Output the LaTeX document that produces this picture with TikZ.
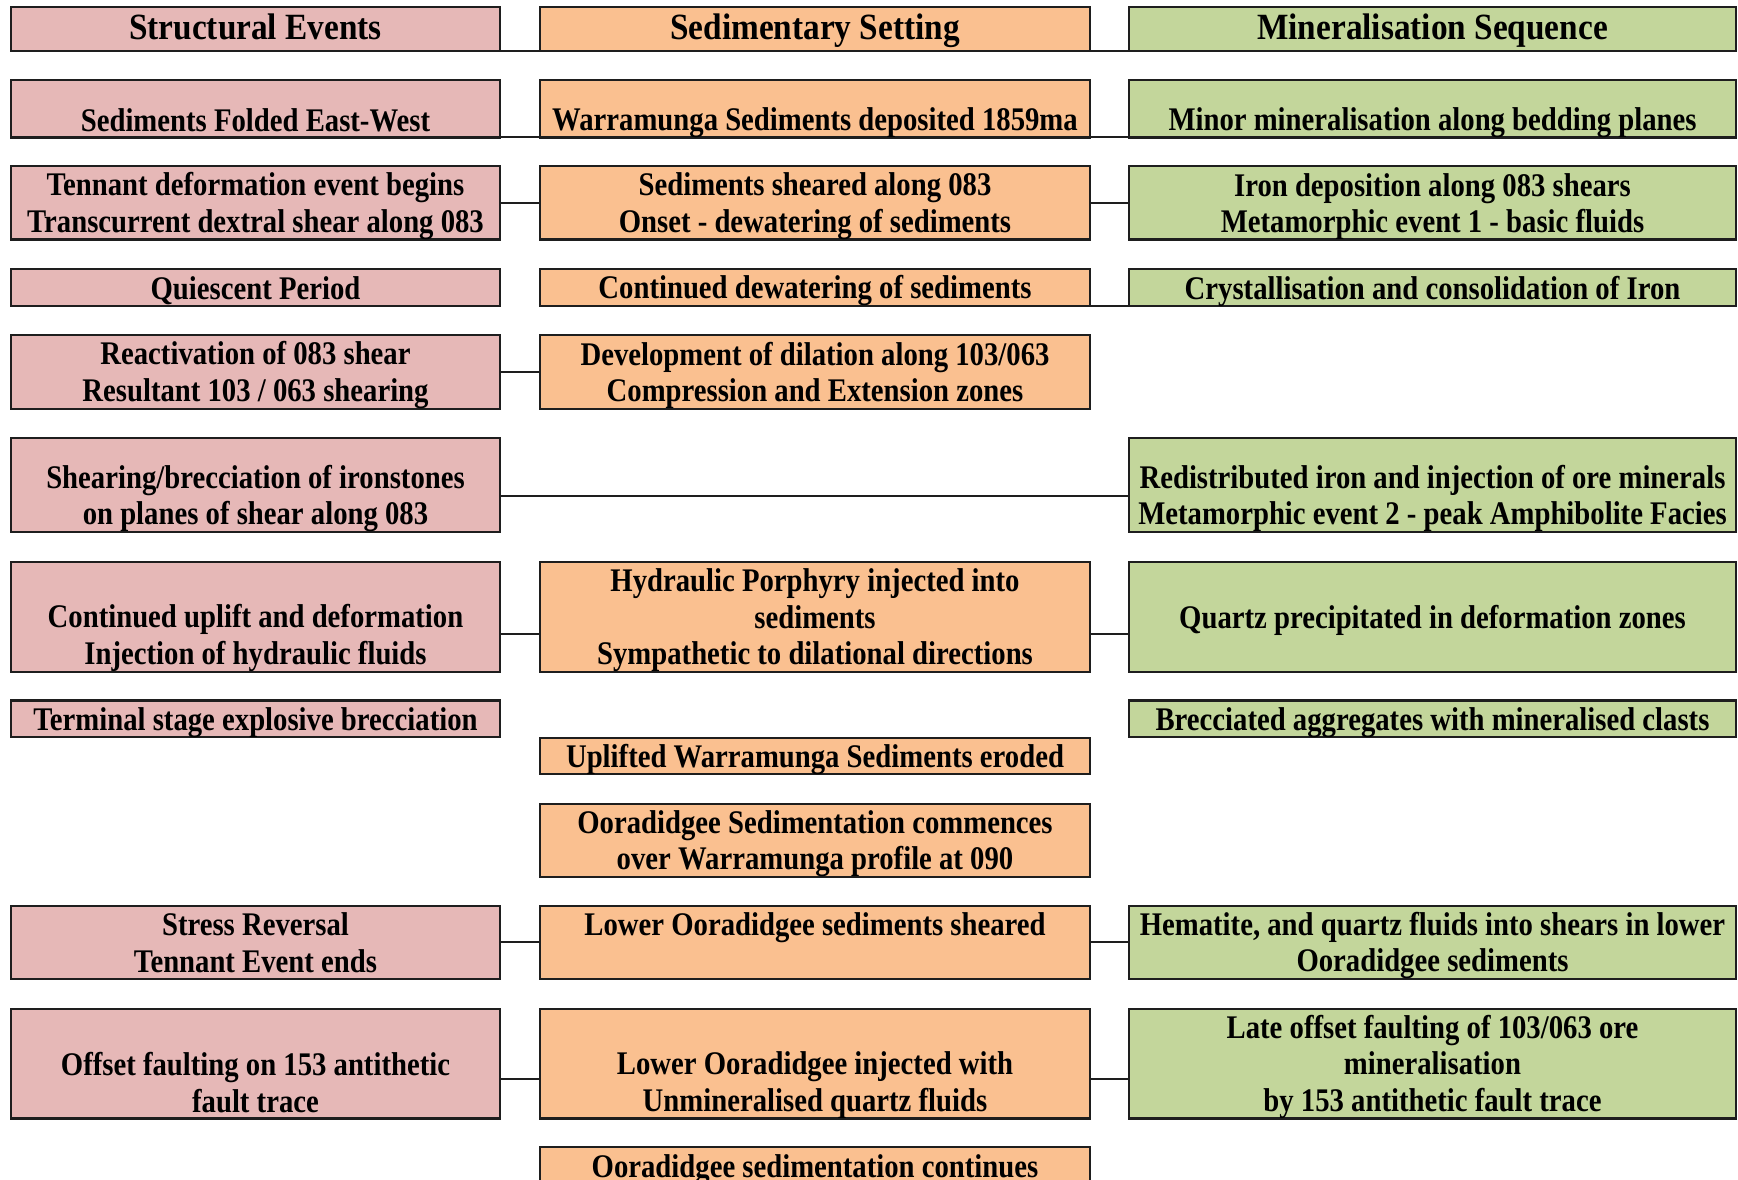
\documentclass[tikz,border=0pt]{standalone}
\usepackage{fontspec}
\usepackage{xcolor}
\usepackage{tikz}

\newfontfamily\evfont[FakeStretch=0.87]{Liberation Serif}
\newfontfamily\evheadfont[FakeStretch=0.9]{Liberation Serif}
\definecolor{evpink}{HTML}{E6B8B7}
\definecolor{evorange}{HTML}{FAC090}
\definecolor{evgreen}{HTML}{C3D69B}
\definecolor{evline}{HTML}{1E1E1E}
\newcommand{\evstrut}{\rule[-0.182em]{0pt}{1.091em}}
\newcommand{\evheadstrut}{\rule[-0.25em]{0pt}{1.1em}}
% #1 = c, t or b, #2 = width, #3 = height, #4 = text
\newcommand{\evcell}[4]{\parbox[c][#3pt][#1]{#2pt}{\centering\evfont\bfseries\fontsize{33}{36.6}\selectfont\lineskiplimit=-100pt\evstrut #4\evstrut\par\kern0pt}}
\newcommand{\evhead}[3]{\parbox[c][#2pt][c]{#1pt}{\centering\evheadfont\bfseries\fontsize{37}{41}\selectfont\evheadstrut #3\evheadstrut}}

\tikzset{
  evbox/.style={draw=evline, line width=2.2pt, inner sep=0pt, outer sep=0pt},
  spink/.style={evbox, fill=evpink},
  dorange/.style={evbox, fill=evorange},
  mgreen/.style={evbox, fill=evgreen},
  link/.style={draw=evline, line width=2pt}
}

\begin{document}
\begin{tikzpicture}[x=1pt, y=-1pt]
    \useasboundingbox (0,0) rectangle (1738,1179);
    % headers
    \node[spink] (sHdr) at (255.5,28.8) {\evhead{489}{44.4}{Structural Events}};
    \node[dorange] (dHdr) at (815,28.8) {\evhead{550}{44.4}{Sedimentary Setting}};
    \node[mgreen] (mHdr) at (1432.5,28.8) {\evhead{607}{44.4}{Mineralisation Sequence}};
    % structural events
    \node[spink] (s1) at (255.5,108.6) {\evcell{b}{489}{57.6}{Sediments Folded East-West}};
    \node[spink] (s2) at (255.5,202.85) {\evcell{c}{489}{73.1}{Tennant deformation event begins\\Transcurrent dextral shear along 083}};
    \node[spink] (s3) at (255.5,287.6) {\evcell{c}{489}{36.6}{Quiescent Period}};
    \node[spink] (s4) at (255.5,371.85) {\evcell{c}{489}{74.3}{Reactivation of 083 shear\\Resultant 103 / 063 shearing}};
    \node[spink] (s5) at (255.5,484.9) {\evcell{b}{489}{94.2}{Shearing/brecciation of ironstones\\on planes of shear along 083}};
    \node[spink] (s6) at (255.5,616.85) {\evcell{b}{489}{109.7}{Continued uplift and deformation\\Injection of hydraulic fluids}};
    \node[spink] (s7) at (255.5,718.75) {\evcell{c}{489}{36.5}{Terminal stage explosive brecciation}};
    \node[spink] (s10) at (255.5,942.15) {\evcell{c}{489}{73.1}{Stress Reversal\\Tennant Event ends}};
    \node[spink] (s11) at (255.5,1063.5) {\evcell{b}{489}{109.8}{Offset faulting on 153 antithetic\\fault trace}};
    % sedimentary setting
    \node[dorange] (d1) at (815,108.6) {\evcell{b}{550}{57.6}{Warramunga Sediments deposited 1859ma}};
    \node[dorange] (d2) at (815,202.85) {\evcell{c}{550}{73.1}{Sediments sheared along 083\\Onset - dewatering of sediments}};
    \node[dorange] (d3) at (815,287.6) {\evcell{c}{550}{36.6}{Continued dewatering of sediments}};
    \node[dorange] (d4) at (815,371.85) {\evcell{c}{550}{74.3}{Development of dilation along 103/063\\Compression and Extension zones}};
    \node[dorange] (d6) at (815,616.85) {\evcell{c}{550}{109.7}{Hydraulic Porphyry injected into\\sediments\\Sympathetic to dilational directions}};
    \node[dorange] (d8) at (815,756) {\evcell{c}{550}{35.5}{Uplifted Warramunga Sediments eroded}};
    \node[dorange] (d9) at (815,840.15) {\evcell{c}{550}{73.1}{Ooradidgee Sedimentation commences\\over Warramunga profile at 090}};
    \node[dorange] (d10) at (815,942.15) {\evcell{t}{550}{73.1}{Lower Ooradidgee sediments sheared}};
    \node[dorange] (d11) at (815,1063.5) {\evcell{b}{550}{109.8}{Lower Ooradidgee injected with\\Unmineralised quartz fluids}};
    \node[dorange] (d12) at (815,1183.7) {\evcell{t}{550}{73}{Ooradidgee sedimentation continues}};
    % mineralisation sequence
    \node[mgreen] (m1) at (1432.5,108.6) {\evcell{b}{607}{57.6}{Minor mineralisation along bedding planes}};
    \node[mgreen] (m2) at (1432.5,202.85) {\evcell{c}{607}{73.1}{Iron deposition along 083 shears\\Metamorphic event 1 - basic fluids}};
    \node[mgreen] (m3) at (1432.5,287.6) {\evcell{c}{607}{36.6}{Crystallisation and consolidation of Iron}};
    \node[mgreen] (m5) at (1432.5,484.9) {\evcell{b}{607}{94.2}{Redistributed iron and injection of ore minerals\\Metamorphic event 2 - peak Amphibolite Facies}};
    \node[mgreen] (m6) at (1432.5,616.85) {\evcell{c}{607}{109.7}{Quartz precipitated in deformation zones}};
    \node[mgreen] (m7) at (1432.5,718.75) {\evcell{c}{607}{36.5}{Brecciated aggregates with mineralised clasts}};
    \node[mgreen] (m10) at (1432.5,942.15) {\evcell{c}{607}{73.1}{Hematite, and quartz fluids into shears in lower\\Ooradidgee sediments}};
    \node[mgreen] (m11) at (1432.5,1063.5) {\evcell{c}{607}{109.8}{Late offset faulting of 103/063 ore\\mineralisation\\by 153 antithetic fault trace}};
    % connectors
    \draw[link] (sHdr.south east) -- (dHdr.south west);
    \draw[link] (dHdr.south east) -- (mHdr.south west);
    \draw[link] (s1.south east) -- (d1.south west);
    \draw[link] (d1.south east) -- (m1.south west);
    \draw[link] (s2.east) -- (d2.west);
    \draw[link] (d2.east) -- (m2.west);
    \draw[link] (d3.south east) -- (m3.south west);
    \draw[link] (s4.east) -- (d4.west);
    \draw[link] ([yshift=-10.6pt]s5.east) -- ([yshift=-10.6pt]m5.west);
    \draw[link] ([yshift=-17.6pt]s6.east) -- ([yshift=-17.6pt]d6.west);
    \draw[link] ([yshift=-17.6pt]d6.east) -- ([yshift=-17.6pt]m6.west);
    \draw[link] (s10.east) -- (d10.west);
    \draw[link] (d10.east) -- (m10.west);
    \draw[link] ([yshift=-15pt]s11.east) -- ([yshift=-15pt]d11.west);
    \draw[link] ([yshift=-15pt]d11.east) -- ([yshift=-15pt]m11.west);
\end{tikzpicture}
\end{document}
